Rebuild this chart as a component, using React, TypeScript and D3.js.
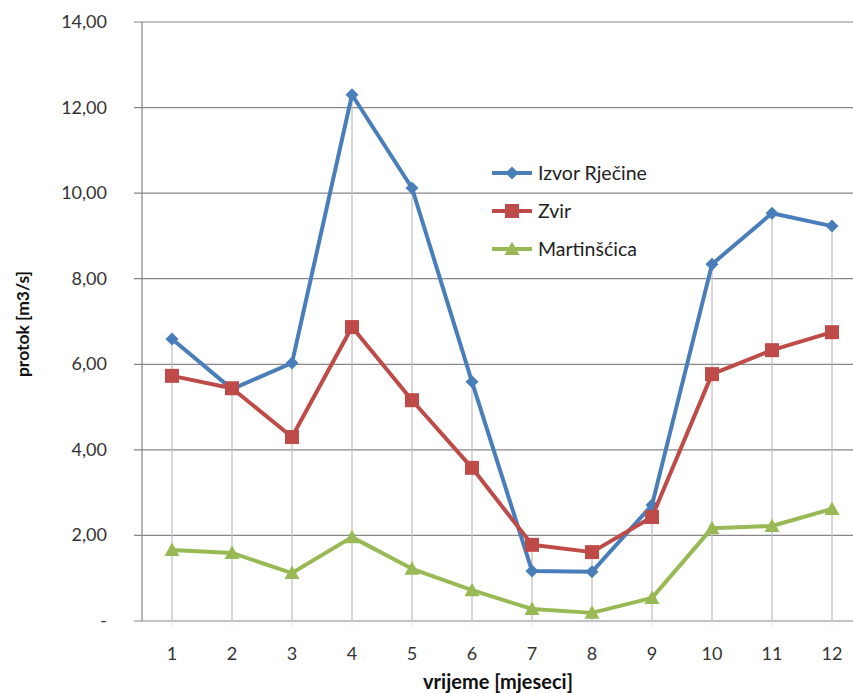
import React from "react";
import * as d3 from "d3";

const months = ["1", "2", "3", "4", "5", "6", "7", "8", "9", "10", "11", "12"];
const izvorRjecine = [6.59, 5.42, 6.03, 12.3, 10.12, 5.59, 1.17, 1.15, 2.71, 8.34, 9.53, 9.23];
const zvir = [5.73, 5.44, 4.3, 6.87, 5.16, 3.58, 1.78, 1.61, 2.43, 5.77, 6.33, 6.75];
const martinscica = [1.66, 1.59, 1.12, 1.96, 1.22, 0.72, 0.28, 0.19, 0.54, 2.17, 2.22, 2.62];
const yTicks = [0, 2, 4, 6, 8, 10, 12, 14];
const seriesNames = ["Izvor Rječine", "Zvir", "Martinšćica"];
const seriesColors = ["#4A7EBB", "#BE4B48", "#98B954"];

const W = 853;
const H = 693;
const left = 142;
const top = 22;
const bottom = 621;
const font = "Lato, 'Open Sans', sans-serif";

export default function App() {
  const x = d3.scaleBand<string>().domain(months).range([left, left + 720]).padding(0);
  const cx = (m: string) => (x(m) as number) + x.bandwidth() / 2;
  const y = d3.scaleLinear().domain([0, 14]).range([bottom, top]);
  const allSeries = [izvorRjecine, zvir, martinscica];
  const line = d3
    .line<number>()
    .x((_, i) => cx(months[i]))
    .y((d) => y(d));
  const fmt = (v: number) => (v === 0 ? "-" : d3.format(".2f")(v).replace(".", ","));

  const marker = (k: number, px: number, py: number, key: string) => {
    const c = seriesColors[k];
    if (k === 0) {
      const s = 6.5;
      return (
        <path key={key} d={`M${px},${py - s}L${px + s},${py}L${px},${py + s}L${px - s},${py}Z`} fill={c} />
      );
    }
    if (k === 1) {
      const s = 7;
      return <rect key={key} x={px - s} y={py - s} width={2 * s} height={2 * s} fill={c} />;
    }
    const s = 7.5;
    return (
      <path key={key} d={`M${px},${py - s}L${px + s},${py + s * 0.8}L${px - s},${py + s * 0.8}Z`} fill={c} />
    );
  };

  return (
    <svg
      width={W}
      height={H}
      style={{ position: "absolute", left: 0, top: 0, background: "#fff" }}
      fontFamily={font}
    >
      {/* horizontal gridlines */}
      {yTicks.map((t) => (
        <line key={"g" + t} x1={left - 8} x2={W} y1={y(t)} y2={y(t)} stroke="#878787" strokeWidth={1.2} />
      ))}
      {/* drop lines */}
      {months.map((m, i) => {
        const mx = Math.max(izvorRjecine[i], zvir[i], martinscica[i]);
        return (
          <line key={"d" + m} x1={cx(m)} x2={cx(m)} y1={y(mx)} y2={bottom} stroke="#BDBDBD" strokeWidth={1.2} />
        );
      })}
      {/* y axis */}
      <line x1={left} x2={left} y1={top} y2={bottom} stroke="#878787" strokeWidth={1.2} />
      {/* x ticks faint */}
      {months.map((m) => (
        <line key={"xt" + m} x1={cx(m)} x2={cx(m)} y1={bottom} y2={bottom + 5} stroke="#e3e3e3" strokeWidth={1} />
      ))}
      {/* y labels */}
      {yTicks.map((t) => (
        <text key={"yl" + t} x={107} y={y(t) + 6} textAnchor="end" fontSize={18} fill="#333">
          {fmt(t)}
        </text>
      ))}
      {/* x labels */}
      {months.map((m) => (
        <text key={"xl" + m} x={cx(m)} y={660} textAnchor="middle" fontSize={18} fill="#333">
          {m}
        </text>
      ))}
      {/* series */}
      {allSeries.map((s, k) => (
        <g key={"s" + k}>
          <path d={line(s) as string} fill="none" stroke={seriesColors[k]} strokeWidth={4} strokeLinejoin="round" />
          {s.map((v, i) => marker(k, cx(months[i]), y(v), `m${k}-${i}`))}
        </g>
      ))}
      {/* legend */}
      {seriesNames.map((n, k) => {
        const ly = 173 + k * 38;
        return (
          <g key={"l" + k}>
            <line x1={492} x2={532} y1={ly} y2={ly} stroke={seriesColors[k]} strokeWidth={4} />
            {marker(k, 512, ly, "lm" + k)}
            <text x={538} y={ly + 7} fontSize={19.5} fill="#222">
              {n}
            </text>
          </g>
        );
      })}
      {/* axis titles */}
      <text
        transform={`translate(29,${324}) rotate(-90)`}
        textAnchor="middle"
        fontSize={17.5}
        fontWeight="bold"
        fill="#111"
      >
        protok [m3/s]
      </text>
      <text x={498} y={689} textAnchor="middle" fontSize={20} fontWeight="bold" fill="#111">
        vrijeme [mjeseci]
      </text>
    </svg>
  );
}
